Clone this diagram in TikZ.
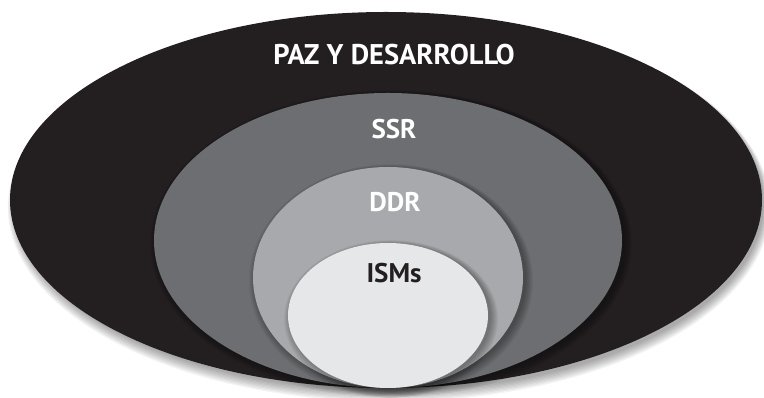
\documentclass[tikz,border=0pt]{standalone}
\usepackage{fontspec}
\setmainfont{PT Sans}
\usetikzlibrary{shapes.geometric}
\definecolor{cBlack}{HTML}{231F20}
\definecolor{cDark}{HTML}{6D6E71}
\definecolor{cMid}{HTML}{A7A9AC}
\definecolor{cLight}{HTML}{E6E7E8}
\begin{document}
\begin{tikzpicture}[x=1pt,y=1pt,
  lab/.style={font=\bfseries\fontsize{27}{27}\selectfont, text=white, anchor=base, inner sep=0pt},
  ring/.style={ellipse, inner sep=0pt, outer sep=0pt, draw=none},
  shade/.style={fill=black, opacity=0.045}]
\useasboundingbox (0,0) rectangle (764,398);
% shadow of outer ellipse
\foreach \i in {1,...,9}
  \fill[shade] (389,{195-\i*0.5}) ellipse [x radius={374+\i*0.8}, y radius={187+\i*0.8}];
\node[ring, fill=cBlack, minimum width=752pt, minimum height=376pt] (peace) at (386,198) {};
% shadow of SSR
\foreach \i in {1,...,8}
  \fill[shade] (391,{156.5-\i*0.3}) ellipse [x radius={233+\i*1.0}, y radius={146.5+\i*0.9}];
\node[ring, fill=cDark, minimum width=468pt, minimum height=295pt] (ssr) at (388,157.5) {};
% shadow of DDR
\foreach \i in {1,...,8}
  \fill[shade] (391,{119.5-\i*0.3}) ellipse [x radius={134+\i*1.0}, y radius={109.5+\i*0.9}];
\node[ring, fill=cMid, minimum width=270pt, minimum height=221pt] (ddr) at (388,120.5) {};
% shadow of ISMs
\foreach \i in {1,...,8}
  \fill[shade] (391,{81.5-\i*0.3}) ellipse [x radius={99+\i*1.0}, y radius={71.5+\i*0.9}];
\node[ring, fill=cLight, minimum width=200pt, minimum height=145pt] (isms) at (388,82.5) {};
% labels
\node[lab, font=\bfseries\fontsize{28.5}{28.5}\selectfont] (tpeace) at (394,333) {PAZ Y DESARROLLO};
\node[lab] (tssr) at (394,259) {SSR};
\node[lab] (tddr) at (395,186) {DDR};
\node[lab, text=cBlack] (tisms) at (394,115) {ISMs};
\end{tikzpicture}
\end{document}
